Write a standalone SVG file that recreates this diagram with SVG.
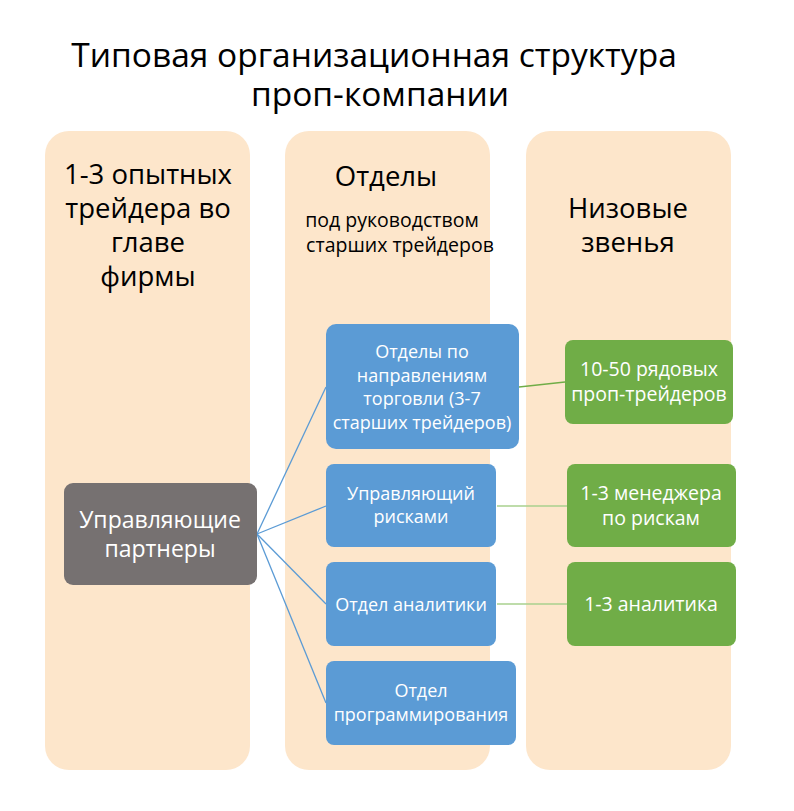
<svg xmlns="http://www.w3.org/2000/svg" width="794" height="811" viewBox="0 0 794 811">
<style>
text{font-family:"Open Sans","Noto Sans","DejaVu Sans",sans-serif;text-anchor:middle}
.col{fill:#FDE6CB}
.blue{fill:#5B9BD5}
.green{fill:#70AD47}
.w{fill:#fff;font-size:18px}
.wg{fill:#fff;font-size:19.5px}
.h{fill:#000;font-size:27.5px}
</style>
<rect width="794" height="811" fill="#fff"/>
<text x="374" y="67" style="font-size:33.5px">Типовая организационная структура</text>
<text x="380" y="106" style="font-size:33.5px">проп-компании</text>
<g id="col-left"><rect class="col" x="45" y="131" width="205" height="639" rx="24"/>
<text class="h" x="148" y="184">1-3 опытных</text><text class="h" x="148" y="218">трейдера во</text><text class="h" x="148" y="252">главе</text><text class="h" x="148" y="286">фирмы</text></g>
<g id="col-mid"><rect class="col" x="285" y="131" width="205" height="639" rx="24"/>
<text class="h" x="386" y="186">Отделы</text>
<text x="392" y="227" style="font-size:19.5px">под руководством</text><text x="400" y="252" style="font-size:19.5px">старших трейдеров</text></g>
<g id="col-right"><rect class="col" x="526" y="131" width="205" height="639" rx="24"/>
<text class="h" x="628" y="218">Низовые</text><text class="h" x="628" y="252">звенья</text></g>
<g id="connectors" fill="none">
<g stroke="#5B9BD5" stroke-width="1.3">
<line x1="257" y1="534" x2="326" y2="387"/><line x1="257" y1="534" x2="326" y2="506"/><line x1="257" y1="534" x2="326" y2="604"/><line x1="257" y1="534" x2="326" y2="703"/></g>
<line x1="519" y1="387" x2="565" y2="382" stroke="#70AD47" stroke-width="1.3"/>
<line x1="497" y1="506" x2="567" y2="506" stroke="#A9D18E" stroke-width="1.5"/>
<line x1="497" y1="604" x2="567" y2="604" stroke="#A9D18E" stroke-width="1.5"/>
</g>
<g id="partners"><rect x="64" y="483" width="193" height="102" rx="9" fill="#767171"/>
<text class="w" x="160" y="528" style="font-size:23px">Управляющие</text><text class="w" x="160" y="557" style="font-size:23px">партнеры</text></g>
<g id="b1"><rect class="blue" x="326" y="324" width="193" height="125" rx="10"/>
<text class="w" x="422" y="358">Отделы по</text><text class="w" x="422" y="382">направлениям</text><text class="w" x="422" y="405">торговли (3-7</text><text class="w" x="422" y="429">старших трейдеров)</text></g>
<g id="b2"><rect class="blue" x="326" y="464" width="170" height="83" rx="8"/>
<text class="w" x="411" y="500">Управляющий</text><text class="w" x="411" y="523">рисками</text></g>
<g id="b3"><rect class="blue" x="326" y="562" width="170" height="84" rx="8"/>
<text class="w" x="411" y="611">Отдел аналитики</text></g>
<g id="b4"><rect class="blue" x="326" y="661" width="190" height="84" rx="8"/>
<text class="w" x="421" y="697">Отдел</text><text class="w" x="421" y="721">программирования</text></g>
<g id="g1"><rect class="green" x="565" y="340" width="168" height="84" rx="8"/>
<text class="wg" x="649" y="376">10-50 рядовых</text><text class="wg" x="649" y="401">проп-трейдеров</text></g>
<g id="g2"><rect class="green" x="567" y="464" width="169" height="83" rx="8"/>
<text class="wg" x="651" y="500">1-3 менеджера</text><text class="wg" x="651" y="525">по рискам</text></g>
<g id="g3"><rect class="green" x="567" y="562" width="169" height="84" rx="8"/>
<text class="wg" x="651" y="611">1-3 аналитика</text></g>
</svg>
